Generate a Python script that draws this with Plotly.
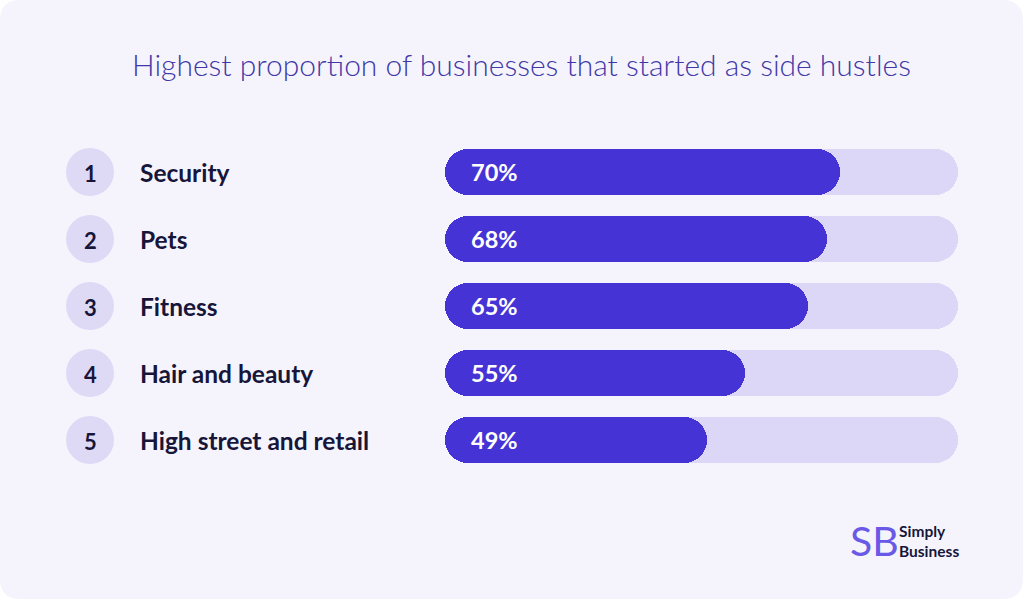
import plotly.graph_objects as go

# ---- data ----
ranks = [1, 2, 3, 4, 5]
categories = ["Security", "Pets", "Fitness", "Hair and beauty", "High street and retail"]
values = [70, 68, 65, 55, 49]
value_labels = ["70%", "68%", "65%", "55%", "49%"]
title_text = "Highest proportion of businesses that started as side hustles"

# ---- style / layout constants ----
W, H = 1023, 599
BG = "#F5F4FD"
FILL = "#4633D6"
TRACK = "#DCD7F6"
CIRCLE = "#DEDAF6"
DARK = "#17163A"
TITLE_C = "#4138A6"
FONT = "Lato"

PX0, SLOPE = 397.0, 6.33
XR = [-PX0 / SLOPE, (W - PX0) / SLOPE]
Y1PX, YSTEP = 172.0, 67.0
YR = [1 + (H - Y1PX) / YSTEP, 1 - Y1PX / YSTEP]
BAR_H_PX = 46
BAR_W = BAR_H_PX / YSTEP
START_X = (445 - PX0) / SLOPE
TRACK_END = (958 - PX0) / SLOPE

fig = go.Figure()
fig.add_trace(go.Bar(
    y=ranks, x=[TRACK_END - START_X] * len(ranks), base=START_X, orientation="h",
    width=BAR_W, marker=dict(color=TRACK, cornerradius=BAR_H_PX // 2, line_width=0),
    hoverinfo="skip", showlegend=False))
fig.add_trace(go.Bar(
    y=ranks, x=[v - START_X for v in values], base=START_X, orientation="h",
    width=BAR_W, marker=dict(color=FILL, cornerradius=BAR_H_PX // 2, line_width=0),
    hoverinfo="skip", showlegend=False))
fig.add_trace(go.Scatter(
    y=ranks, x=[90] * len(ranks), xaxis="x2", mode="markers",
    marker=dict(size=48, color=CIRCLE, line_width=0),
    hoverinfo="skip", showlegend=False))

annotations = []
for r, c, lab in zip(ranks, categories, value_labels):
    annotations.append(dict(x=90, y=r, xref="x2", yref="y", text=str(r), showarrow=False,
                            xanchor="center", yanchor="middle", yshift=-1,
                            font=dict(family=FONT, size=22, color=DARK, weight="bold")))
    annotations.append(dict(x=138, y=r, xref="x2", yref="y", text=c, showarrow=False,
                            xanchor="left", yanchor="middle",
                            font=dict(family=FONT, size=24.5, color=DARK, weight="bold")))
    annotations.append(dict(x=469, y=r, xref="x2", yref="y", text=lab, showarrow=False,
                            xanchor="left", yanchor="middle",
                            font=dict(family=FONT, size=23.5, color="white", weight="bold")))

annotations.append(dict(x=521 / W, y=1 - 64 / H, xref="paper", yref="paper", text=title_text,
                        showarrow=False, xanchor="center", yanchor="middle",
                        font=dict(family=FONT, size=30, color=TITLE_C, weight=300)))
annotations.append(dict(x=874 / W, y=1 - 540 / H, xref="paper", yref="paper", text="SB",
                        showarrow=False, xanchor="center", yanchor="middle",
                        font=dict(family=FONT, size=41, color="#6A58E6", weight=400)))
annotations.append(dict(x=897 / W, y=1 - 541 / H, xref="paper", yref="paper",
                        text="Simply<br>Business", showarrow=False, xanchor="left",
                        yanchor="middle", align="left",
                        font=dict(family=FONT, size=15.5, color=DARK, weight="bold")))

fig.update_layout(
    width=W, height=H, margin=dict(l=0, r=0, t=0, b=0),
    paper_bgcolor="white", plot_bgcolor="rgba(0,0,0,0)",
    barmode="overlay", bargap=0,
    xaxis=dict(range=XR, visible=False, fixedrange=True),
    xaxis2=dict(range=[0, W], overlaying="x", visible=False, fixedrange=True),
    yaxis=dict(range=YR, visible=False, fixedrange=True),
    annotations=annotations,
    shapes=[dict(type="path", xref="paper", yref="paper", layer="below",
                 path=f"M 0.02,0 L 0.98,0 Q 1,0 1,0.034 L 1,0.966 Q 1,1 0.98,1 L 0.02,1 Q 0,1 0,0.966 L 0,0.034 Q 0,0 0.02,0 Z",
                 fillcolor=BG, line_width=0)],
)

fig.write_html("out.html")
